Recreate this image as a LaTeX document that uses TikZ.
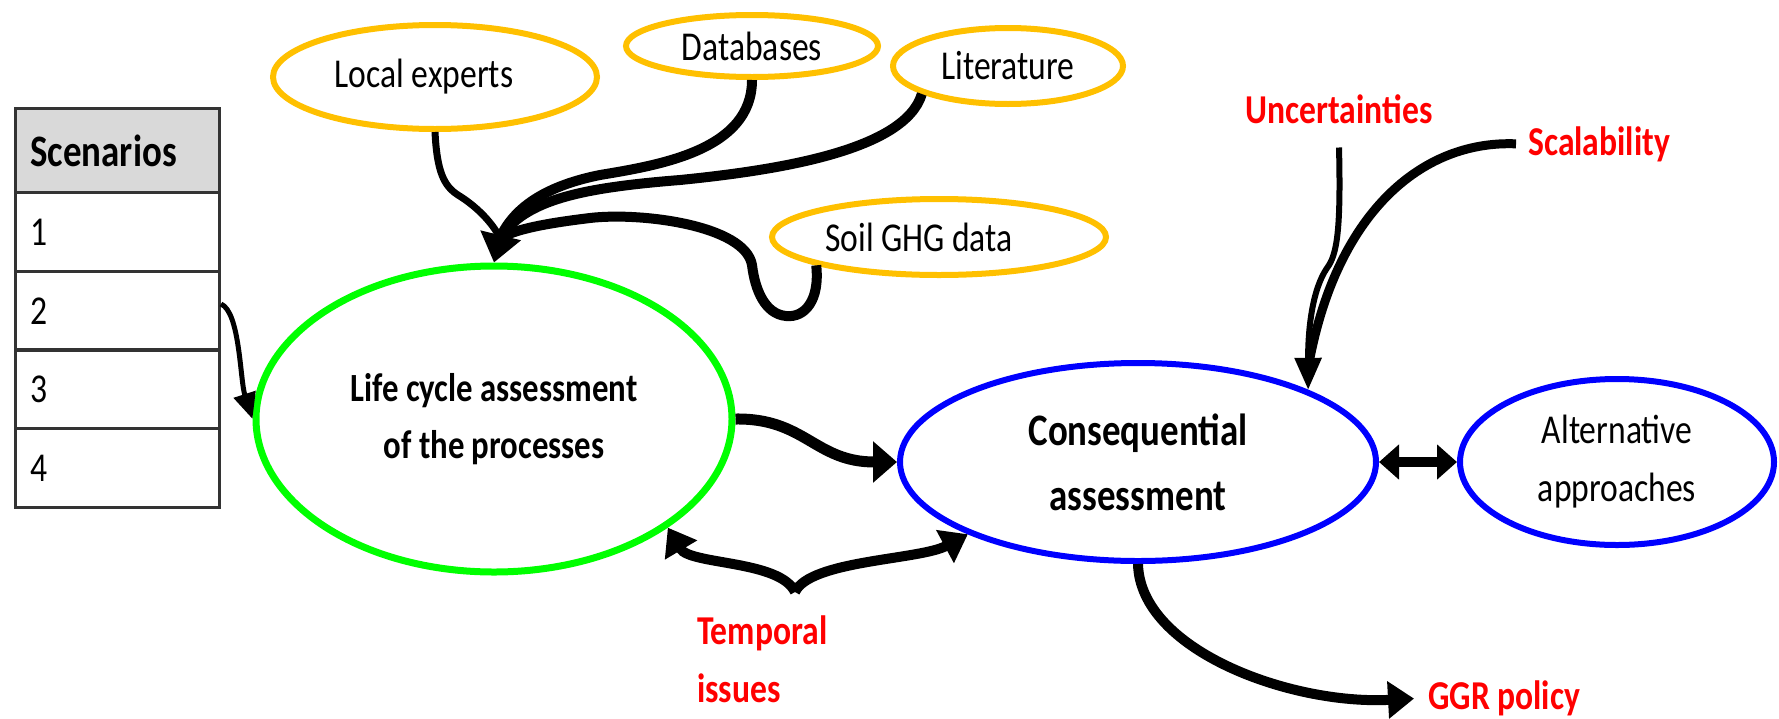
\documentclass[tikz,border=0pt]{standalone}
\usepackage{fontspec}
\setmainfont{Carlito}[FakeStretch=0.82]
\usetikzlibrary{shapes.geometric,arrows.meta}
\definecolor{gold}{HTML}{FFC000}
\definecolor{lgreen}{HTML}{00FF00}
\definecolor{pblue}{HTML}{0000FF}
\definecolor{pred}{HTML}{FF0000}
\definecolor{hdr}{HTML}{D9D9D9}
\newcommand\fsrc{\fontsize{41}{58}\selectfont}
\newcommand\fbig{\fontsize{45}{65}\selectfont}
\begin{document}
\begin{tikzpicture}[x=1pt,y=-1pt,
  src/.style={ellipse, draw=gold, line width=6pt, inner sep=0pt, font=\fsrc},
  proc/.style={ellipse, line width=6pt, inner sep=0pt, align=center},
  cellbox/.style={draw=black!80, line width=3pt, anchor=north west, minimum height=79pt, text width=174pt, inner xsep=15pt, inner ysep=0pt, align=left, font=\fsrc},
  lbl/.style={text=pred, inner sep=0pt, align=left, font=\bfseries\fsrc},
  conn/.style={line width=10pt},
  bigtip/.style={-{Triangle[length=28pt,width=40pt]}},
  midtip/.style={-{Triangle[length=26pt,width=36pt]}},
]
\useasboundingbox (0,0) rectangle (1779,718);

% table
\node[cellbox, fill=hdr, minimum height=84pt, font=\bfseries\fontsize{45}{54}\selectfont] (sc) at (14,107) {Scenarios};
\node[cellbox] (c1) at (14,191) {1};
\node[cellbox] (c2) at (14,270) {2};
\node[cellbox] (c3) at (14,348) {3};
\node[cellbox] (c4) at (14,427) {4};

% source ellipses
\node[src, minimum width=324pt, minimum height=104pt] (le) at (435,77) {\hspace*{-22pt}Local experts};
\node[src, minimum width=252pt, minimum height=62pt] (db) at (752,46) {Databases};
\node[src, minimum width=230pt, minimum height=76pt] (lit) at (1008,66) {Literature};
\node[src, minimum width=334pt, minimum height=76pt] (soil) at (939,237) {\hspace*{-40pt}Soil GHG data};

% process ellipses
\node[proc, draw=lgreen, line width=7pt, minimum width=476pt, minimum height=306pt, font=\bfseries\fontsize{40}{57}\selectfont] (lca) at (494,419) {Life cycle assessment\\of the processes};
\node[proc, draw=pblue, minimum width=476pt, minimum height=198pt, font=\bfseries\fbig] (cons) at (1138,462) {Consequential\\assessment};
\node[proc, draw=pblue, minimum width=314pt, minimum height=166pt, font=\fsrc] (alt) at (1617,462) {Alternative\\approaches};

% labels
\node[lbl, anchor=base] (unc) at (1339,123) {Uncertainties};
\node[lbl, anchor=base west] (scal) at (1528,155) {Scalability};
\node[lbl, anchor=west] (temp) at (697,659) {Temporal\\issues};
\node[lbl, anchor=base west] (ggr) at (1428,709) {GGR policy};

% converging inputs
\coordinate (hub) at (500,238);
\draw[line width=7pt] (le.south) .. controls (437,172) and (444,186) .. (458,195) .. controls (476,206) and (492,222) .. (hub);
\draw[conn] (db.south) .. controls (752,150) and (660,165) .. (600,175) .. controls (550,185) and (515,205) .. (hub);
\draw[conn] (lit.198) .. controls (905,150) and (780,170) .. (680,180) .. controls (580,188) and (525,200) .. (hub);
\draw[conn] (soil.193) .. controls (820,300) and (805,318) .. (786,316) .. controls (765,314) and (755,290) .. (752,265) .. controls (745,225) and (640,212) .. (590,218) .. controls (540,224) and (515,230) .. (hub);
\draw[conn, bigtip] (hub) -- (lca.north);

% scenarios -> LCA
\draw[line width=5pt, -{Triangle[length=26pt,width=22pt]}] ([yshift=7pt]c2.east) .. controls (240,312) and (240,380) .. (lca.west);

% LCA -> consequential
\draw[line width=11pt, -{Triangle[length=24pt,width=40pt]}] (lca.east) .. controls (805,418) and (815,462) .. (cons.west);

% temporal issues brace
\coordinate (tb) at (795,592);
\draw[conn, midtip] (tb) .. controls (780,560) and (690,565) .. (lca.-32);
\draw[conn, midtip] (tb) .. controls (810,560) and (920,560) .. (cons.203);

% uncertainties and scalability
\draw[line width=6pt, -{Triangle[length=32pt,width=26pt]}] ([yshift=-24pt]unc.south) .. controls (1341,230) and (1337,255) .. (1327,268) .. controls (1312,290) and (1308,330) .. (cons.23);
\draw[line width=9pt] ([xshift=-12pt]scal.west) .. controls (1420,140) and (1335,215) .. ([yshift=22pt]cons.23);

% consequential <-> alternative
\draw[line width=10pt, {Triangle[length=20pt,width=34pt]}-{Triangle[length=20pt,width=34pt]}] (cons.east) -- (alt.west);

% consequential -> GGR policy
\draw[conn, midtip, shorten >=14pt] (cons.south) .. controls (1140,650) and (1290,705) .. (ggr.west);
\end{tikzpicture}
\end{document}
